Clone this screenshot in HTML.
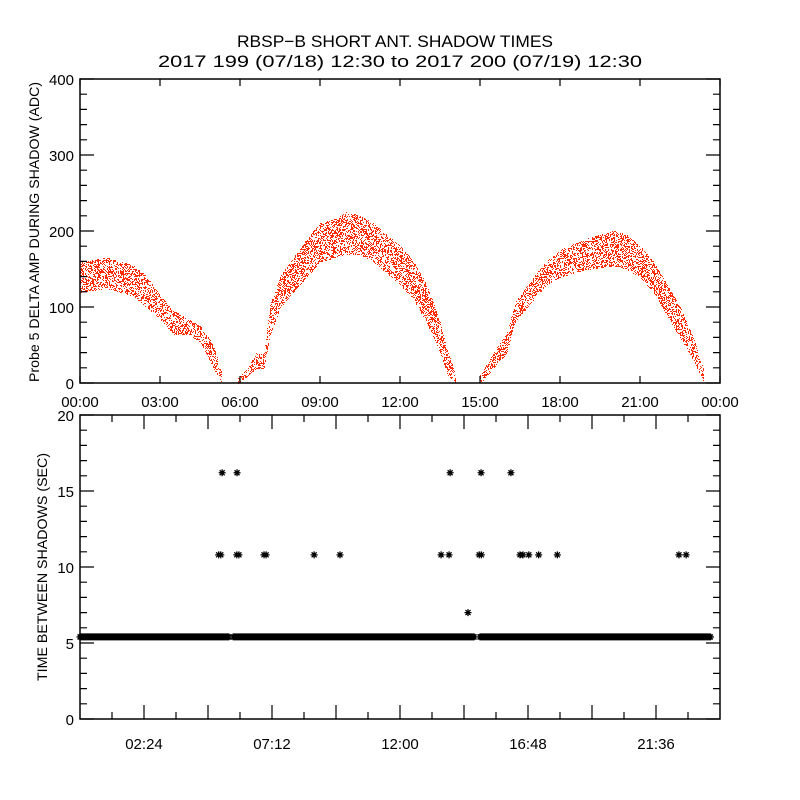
<!DOCTYPE html>
<html><head><meta charset="utf-8"><style>
html,body{margin:0;padding:0;background:#fff;}
svg{display:block;font-family:"Liberation Sans",sans-serif;}
</style></head><body>
<svg id="chart" width="800" height="800" viewBox="0 0 800 800">
<rect width="800" height="800" fill="#fff"/>
<text x="395" y="47" text-anchor="middle" font-size="17" textLength="316" lengthAdjust="spacingAndGlyphs">RBSP−B SHORT ANT. SHADOW TIMES</text>
<text x="400" y="67" text-anchor="middle" font-size="17" textLength="484" lengthAdjust="spacingAndGlyphs">2017 199 (07/18) 12:30 to 2017 200 (07/19) 12:30</text>
<g id="topPanel"></g>
<g id="botPanel"></g>
</svg>
<script>
// ---- top panel data: envelope of amplitude (hours, lower, upper) ----
const ampHours = [0,1,2,2.5,3,3.5,4,4.5,5,5.3, 5.9,6.3,6.6,6.9,7.1,7.5,8,8.5,9,9.5,10,10.5,11,11.5,12,12.5,13,13.5,13.8,14.1, 15,15.5,16,16.3,17,17.5,18,19,20,20.5,21,21.5,22,22.5,23,23.4];
const ampLow   = [120,125,115,100,85,65,65,55,20,2, 0,10,20,20,60,100,120,140,160,165,170,170,160,145,130,110,80,40,10,0, 0,20,40,80,110,130,140,150,155,150,140,120,90,60,30,0];
const ampHigh  = [160,165,155,140,115,95,85,75,50,15, 5,20,40,40,100,140,165,190,210,215,225,220,210,195,180,160,130,80,40,10, 10,40,65,105,140,160,175,190,200,195,180,160,130,100,60,15];
const ampGaps  = [9,29]; // segment breaks after these indices
const topTicksY = [0,100,200,300,400];
const topTicksX = ["00:00","03:00","06:00","09:00","12:00","15:00","18:00","21:00","00:00"];
// ---- bottom panel data ----
const baseSegs = [[0,5.6],[5.75,14.8],[15.0,23.66]];
const baseValue = 5.4;
const outHours = [5.2,5.28,5.88,5.96,6.9,6.98,8.78,9.75,13.54,13.84,14.97,15.05,16.5,16.61,16.83,17.2,17.9,22.46,22.73, 5.33,5.89,13.88,15.04,16.16, 14.55];
const outVals  = [10.8,10.8,10.8,10.8,10.8,10.8,10.8,10.8,10.8,10.8,10.8,10.8,10.8,10.8,10.8,10.8,10.8,10.8,10.8, 16.2,16.2,16.2,16.2,16.2, 7];
const botTicksX = [2.4,7.2,12,16.8,21.6];
const botTickLabels = ["02:24","07:12","12:00","16:48","21:36"];
const botTicksY = [0,5,10,15,20];

const NS="http://www.w3.org/2000/svg";
function mk(tag,attrs,parent){const e=document.createElementNS(NS,tag);for(const k in attrs)e.setAttribute(k,attrs[k]);parent.appendChild(e);return e;}
const topG=document.getElementById('topPanel'), botG=document.getElementById('botPanel');
const TX0=80,TX1=720,TY0=383,TY1=79;
const tx=h=>TX0+(TX1-TX0)*h/24, ty=v=>TY0-(TY0-TY1)*v/400;
const BY0=719,BY1=415;
const by=v=>BY0-(BY0-BY1)*v/20;

// top dots (texture pattern inside envelope)
let dp="";
for(let i=0;i<ampHours.length-1;i++){
  if(ampGaps.includes(i))continue;
  const xa=tx(ampHours[i]),xb=tx(ampHours[i+1]);
  for(let x=Math.ceil(xa);x<xb;x++){
    const f=(x-xa)/(xb-xa);
    const lo=ampLow[i]+(ampLow[i+1]-ampLow[i])*f, hi=ampHigh[i]+(ampHigh[i+1]-ampHigh[i])*f;
    const ylo=Math.round(ty(lo)),yhi=Math.round(ty(hi));
    for(let y=yhi;y<=ylo;y++){
      const h=((x*73856093)^(y*19349663))>>>0;
      if(h%7<3)dp+=`M${x} ${y}h1v1h-1z`;
    }
  }
}
const dots=mk('path',{d:dp,fill:'#ff2a00','shape-rendering':'crispEdges'},topG);



// top axes
const tf=mk('rect',{x:TX0,y:TY1,width:TX1-TX0,height:TY0-TY1,fill:'none',stroke:'#000','stroke-width':1.5},topG);


let tk="";
for(let v=0;v<=400;v+=20){const y=ty(v);const L=v%100===0?14:7;tk+=`M${TX0} ${y}h${L}M${TX1} ${y}h${-L}`;}
for(let i=0;i<=8;i++){const x=tx(i*3);tk+=`M${x} ${TY0}v-7M${x} ${TY1}v7`;}
mk('path',{d:tk,stroke:'#000','stroke-width':1.2,fill:'none'},topG);
topTicksY.forEach(v=>{const t=mk('text',{x:74,y:ty(v)+6,'text-anchor':'end','font-size':15},topG);t.textContent=v;

});
topTicksX.forEach((s,i)=>{const t=mk('text',{x:tx(i*3),y:407,'text-anchor':'middle','font-size':15},topG);t.textContent=s;

});
const yt=mk('text',{x:0,y:0,'text-anchor':'middle','font-size':14,transform:'translate(39,232) rotate(-90)',textLength:300,lengthAdjust:'spacingAndGlyphs'},topG);
yt.textContent="Probe 5 DELTA AMP DURING SHADOW (ADC)";



// bottom baseline stars
function star(x,y){return `M${x-3.5} ${y}h7M${x} ${y-3.5}v7M${x-2.5} ${y-2.5}l5 5M${x-2.5} ${y+2.5}l5 -5`;}
let sp="";
baseSegs.forEach(s=>{for(let h=s[0];h<=s[1];h+=0.03)sp+=star(tx(h),by(baseValue));});
const base=mk('path',{d:sp,stroke:'#000','stroke-width':1.3,fill:'none'},botG);


let op="";
outHours.forEach((h,i)=>{op+=star(tx(h),by(outVals[i]));});
const outl=mk('path',{d:op,stroke:'#000','stroke-width':1.3,fill:'none'},botG);



// bottom axes
const bf=mk('rect',{x:TX0,y:BY1,width:TX1-TX0,height:BY0-BY1,fill:'none',stroke:'#000','stroke-width':1.5},botG);


let bk="";
for(let v=0;v<=20;v++){const y=by(v);const L=v%5===0?14:7;bk+=`M${TX0} ${y}h${L}M${TX1} ${y}h${-L}`;}
for(let i=1;i<20;i++){const x=tx(i*1.2);const L=i%2===0?14:7;bk+=`M${x} ${BY0}v${-L}M${x} ${BY1}v${L}`;}
mk('path',{d:bk,stroke:'#000','stroke-width':1.2,fill:'none'},botG);
botTicksY.forEach(v=>{const t=mk('text',{x:74,y:by(v)+6,'text-anchor':'end','font-size':15},botG);t.textContent=v;

});
botTicksX.forEach((h,i)=>{const t=mk('text',{x:tx(h),y:749,'text-anchor':'middle','font-size':15},botG);t.textContent=botTickLabels[i];

});
const yt2=mk('text',{x:0,y:0,'text-anchor':'middle','font-size':14,transform:'translate(47,567) rotate(-90)',textLength:228,lengthAdjust:'spacingAndGlyphs'},botG);
yt2.textContent="TIME BETWEEN SHADOWS (SEC)";


</script>
</body></html>
